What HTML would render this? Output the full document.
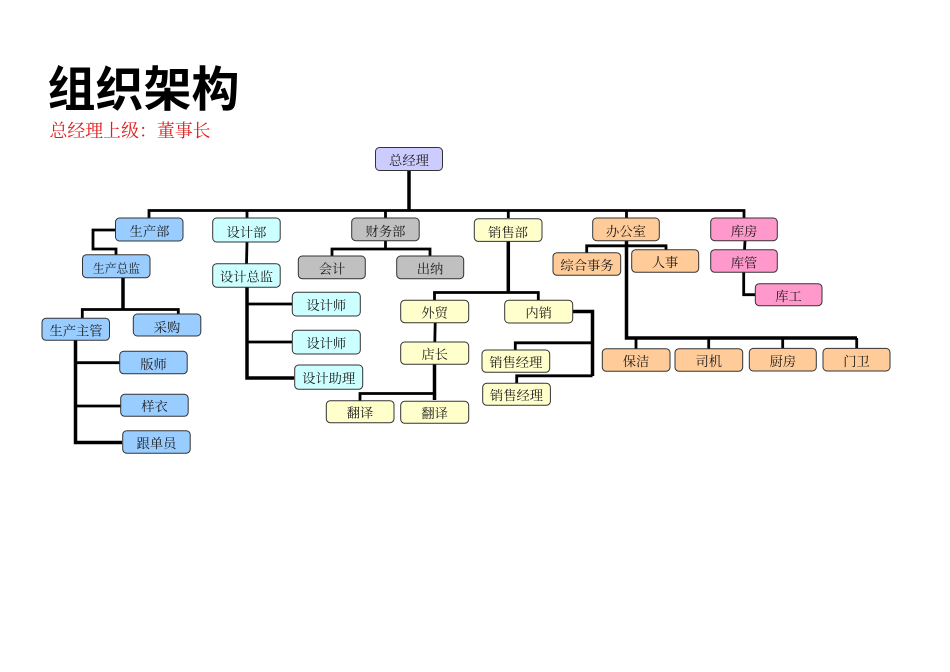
<!DOCTYPE html>
<html lang="zh-CN">
<head>
<meta charset="utf-8">
<title>组织架构</title>
<style>
html,body{margin:0;padding:0;background:#fff;width:950px;height:672px;overflow:hidden}
svg{display:block}
.t{font-family:"Liberation Serif","Noto Serif CJK SC",serif;font-size:13.3px;fill:#1a1a1a;text-anchor:middle;transform:translateY(.8px)}
.b rect{stroke:#333;stroke-width:1;rx:4px;ry:4px}
.l path{fill:none;stroke:#000;stroke-width:2.8}
.k path{fill:none;stroke:#000;stroke-width:3.5}
</style>
</head>
<body>
<svg width="950" height="672" viewBox="0 0 950 672" xmlns="http://www.w3.org/2000/svg">
<text x="47.500" y="106" font-family="'Liberation Sans','Noto Sans CJK SC',sans-serif" font-weight="700" font-size="48" fill="#000">组织架构</text>
<text x="49.500" y="137" font-family="'Liberation Serif','Noto Serif CJK SC',serif" font-size="17.900" fill="#e21a1a" xml:lang="zh-CN">总经理上级：董事长</text>

<g class="k">
<path d="M409 170V211"/>
<path d="M247 287V378H294"/>
<path d="M75.500 340V442.500H122"/>
<path d="M123 278V309"/>
<path d="M508.300 241V293"/>
<path d="M626.500 241V338H857"/>
<path d="M434.500 364V400"/>
<path d="M573 311.500H592.500V376"/>
</g>
<g class="l">
<path d="M115 230H93V249H116V255"/>
<path d="M75.500 362.700H120M75.500 406H121"/>
<path d="M149 218V210.500H744V218"/>
<path d="M247 210.500V218M385.500 210.500V218M508.300 210.500V218M626.500 210.500V218"/>
<path d="M247 242L246.500 264"/>
<path d="M385.500 241V249M332 256V249H430V256"/>
<path d="M82.300 318V309.500H178.300V314"/>
<path d="M247 304H292M247 342H292"/>
<path d="M434.500 300V292.500H538.300V300"/>
<path d="M435.200 323L434.800 342"/>
<path d="M360 401V393.500H434.500"/>
<path d="M515.300 350V342.800H592.500M516.700 383V375.800H592.500"/>
<path d="M586.700 253V245.800H666V250"/>
<path d="M745 241L744.500 250"/>
<path d="M743.700 272V294.700H755.500"/>
<path d="M636 338V349M708.700 338V349M782.700 338V348M856.700 338V348"/>
</g>

<g class="b">
<g fill="#ccccff"><rect x="375.500" y="147.500" width="67" height="23"/></g>
<g fill="#99ccff">
<rect x="115.500" y="218" width="67.500" height="23"/>
<rect x="82.500" y="254.700" width="67.500" height="23"/>
<rect x="42" y="318.300" width="67.500" height="22"/>
<rect x="133.300" y="314" width="67.500" height="22"/>
<rect x="119.700" y="351.300" width="67.500" height="22.500"/>
<rect x="120.700" y="394.300" width="67.500" height="22"/>
<rect x="122.700" y="430.700" width="67.500" height="22.500"/>
</g>
<g fill="#ccffff">
<rect x="212.700" y="218" width="67.500" height="24"/>
<rect x="212.700" y="263.700" width="67.500" height="23.500"/>
<rect x="292.300" y="292.300" width="68" height="23.700"/>
<rect x="292.300" y="330.300" width="68" height="23.700"/>
<rect x="294.700" y="365" width="68" height="24.300"/>
</g>
<g fill="#c0c0c0">
<rect x="351.700" y="218" width="67.500" height="22.700"/>
<rect x="298.300" y="256" width="67" height="22.700"/>
<rect x="396.700" y="256" width="67" height="22.700"/>
</g>
<g fill="#ffffcc">
<rect x="474.300" y="218.700" width="67.700" height="22.700"/>
<rect x="400.700" y="300.300" width="68" height="22.400"/>
<rect x="504.700" y="300.300" width="68" height="22.700"/>
<rect x="400.700" y="342" width="68" height="22.300"/>
<rect x="326.300" y="400.700" width="67.700" height="22"/>
<rect x="400.700" y="401.300" width="68" height="22"/>
<rect x="482" y="350" width="67.700" height="22.300"/>
<rect x="482.700" y="383.300" width="67.700" height="22"/>
</g>
<g fill="#ffcc99">
<rect x="592.700" y="218" width="66.600" height="22.700"/>
<rect x="553" y="252.700" width="67.700" height="22.600"/>
<rect x="631.700" y="249.700" width="67" height="22.600"/>
<rect x="602.300" y="348.700" width="67.700" height="22.600"/>
<rect x="675" y="348.700" width="67.700" height="22.600"/>
<rect x="749.300" y="348.400" width="67" height="22.600"/>
<rect x="823" y="348.400" width="67" height="22.600"/>
</g>
<g fill="#ff99cc">
<rect x="710.700" y="218" width="66.600" height="22.700"/>
<rect x="710.700" y="249.700" width="66.600" height="22.600"/>
<rect x="755.300" y="283.700" width="66.700" height="22"/>
</g>
</g>

<text class="t" x="409" y="164">总经理</text>
<text class="t" x="149.500" y="235">生产部</text>
<text class="t" x="116.500" y="271.500" style="font-size:11.800px">生产总监</text>
<text class="t" x="76" y="334.500">生产主管</text>
<text class="t" x="167" y="331">采购</text>
<text class="t" x="153.500" y="368">版师</text>
<text class="t" x="154.500" y="410">样衣</text>
<text class="t" x="156.500" y="447">跟单员</text>
<text class="t" x="246.500" y="236">设计部</text>
<text class="t" x="246.500" y="280.500">设计总监</text>
<text class="t" x="326.300" y="309">设计师</text>
<text class="t" x="326.300" y="347">设计师</text>
<text class="t" x="328.700" y="382">设计助理</text>
<text class="t" x="385.500" y="235">财务部</text>
<text class="t" x="332" y="272.500">会计</text>
<text class="t" x="430" y="272.500">出纳</text>
<text class="t" x="508" y="236">销售部</text>
<text class="t" x="434.700" y="316.500">外贸</text>
<text class="t" x="538.700" y="316.500">内销</text>
<text class="t" x="434.700" y="358">店长</text>
<text class="t" x="360" y="416.500">翻译</text>
<text class="t" x="434.700" y="417">翻译</text>
<text class="t" x="515.800" y="366">销售经理</text>
<text class="t" x="516.500" y="399">销售经理</text>
<text class="t" x="626" y="235">办公室</text>
<text class="t" x="587" y="269">综合事务</text>
<text class="t" x="665" y="266">人事</text>
<text class="t" x="636" y="365">保洁</text>
<text class="t" x="708.800" y="365">司机</text>
<text class="t" x="782.800" y="365">厨房</text>
<text class="t" x="856.500" y="365">门卫</text>
<text class="t" x="744" y="235">库房</text>
<text class="t" x="744" y="266.500">库管</text>
<text class="t" x="788.500" y="300">库工</text>
</svg>
</body>
</html>
